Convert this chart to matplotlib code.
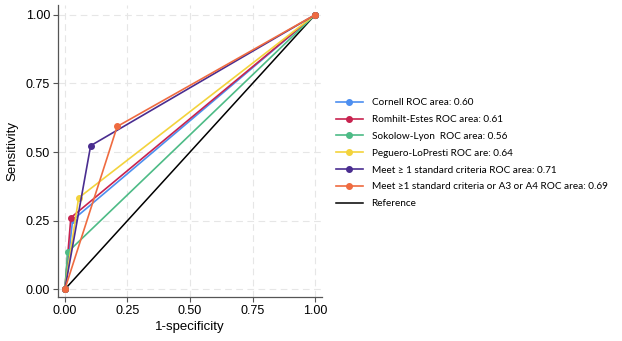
import matplotlib.pyplot as plt

plt.rcParams["font.family"] = ["Liberation Sans", "DejaVu Sans"]

# ROC operating points (1-specificity, sensitivity) for each criterion
names = [
    "Cornell ROC area: 0.60",
    "Romhilt-Estes ROC area: 0.61",
    "Sokolow-Lyon  ROC area: 0.56",
    "Peguero-LoPresti ROC are: 0.64",
    "Meet \u2265 1 standard criteria ROC area: 0.71",
    "Meet \u22651 standard criteria or A3 or A4 ROC area: 0.69",
]
fpr = [0.031, 0.024, 0.011, 0.055, 0.103, 0.209]
tpr = [0.252, 0.261, 0.135, 0.333, 0.523, 0.593]
colors = ["#4d8ff0", "#c8234f", "#4dbb86", "#f3d33c", "#4a2d90", "#ef6b40"]

ticks = [0.00, 0.25, 0.50, 0.75, 1.00]

fig = plt.figure(figsize=(6.22, 3.41), dpi=100)
ax = fig.add_axes([0.093, 0.129, 0.425, 0.856])

handles = []
for name, x, y, c in zip(names, fpr, tpr, colors):
    h, = ax.plot([0, x, 1], [0, y, 1], color=c, lw=1.2, marker="o",
                 markersize=4, label=name, zorder=3)
    handles.append(h)
ref, = ax.plot([0, 1], [0, 1], color="black", lw=1.1, label="Reference", zorder=2)
handles.append(ref)

ax.set_xlim(-0.028, 1.028)
ax.set_ylim(-0.028, 1.035)
ax.set_xticks(ticks)
ax.set_yticks(ticks)
ax.set_xticklabels(["%.2f" % t for t in ticks])
ax.set_yticklabels(["%.2f" % t for t in ticks])
ax.tick_params(labelsize=9, length=3.5, color="#555555", width=0.8, pad=2)
ax.grid(True, color="#e6e6e6", linestyle=(0, (6, 4)), lw=0.8, zorder=0)
for s in ["top", "right"]:
    ax.spines[s].set_visible(False)
for s in ["left", "bottom"]:
    ax.spines[s].set_color("#555555")
    ax.spines[s].set_linewidth(0.9)
ax.set_xlabel("1-specificity", fontsize=9.5, labelpad=3)
ax.set_ylabel("Sensitivity", fontsize=9.5, labelpad=5)

leg = fig.legend(handles=handles, loc="upper left", bbox_to_anchor=(0.525, 0.738),
                 frameon=False, numpoints=1, handlelength=2.7, handletextpad=0.9,
                 labelspacing=0.78, prop={"family": "Lato", "size": 7.2})
for h in leg.legend_handles:
    h.set_markersize(4)

fig.savefig("out.png", dpi=100)
